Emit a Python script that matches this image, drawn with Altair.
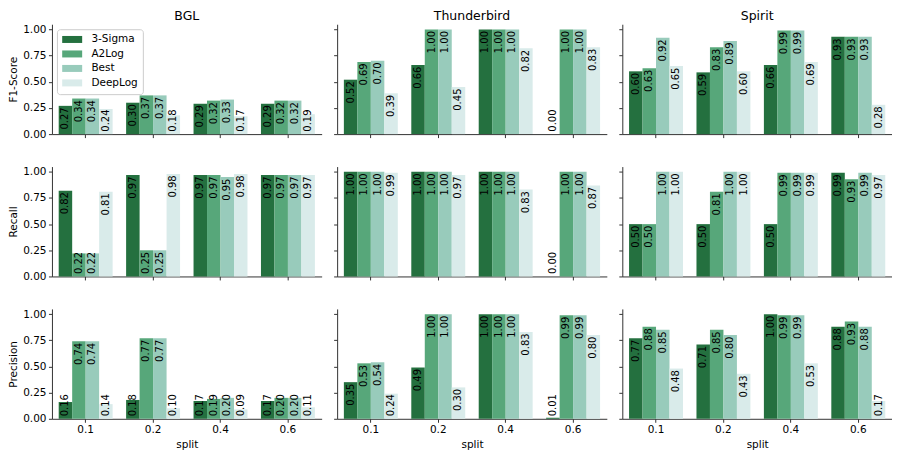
import altair as alt
import pandas as pd

splits = ["0.1", "0.2", "0.4", "0.6"]
methods = ["3-Sigma", "A2Log", "Best", "DeepLog"]
datasets = ["BGL", "Thunderbird", "Spirit"]
metrics = ["F1-Score", "Recall", "Precision"]
colors = ["#24703f", "#57a77a", "#98cbbb", "#d9ebea"]

# values per split: [3-Sigma, A2Log, Best, DeepLog]
bgl_f1 = [[0.27, 0.34, 0.34, 0.24], [0.30, 0.37, 0.37, 0.18], [0.29, 0.32, 0.33, 0.17], [0.29, 0.32, 0.32, 0.19]]
bgl_rec = [[0.82, 0.22, 0.22, 0.81], [0.97, 0.25, 0.25, 0.98], [0.97, 0.97, 0.95, 0.98], [0.97, 0.97, 0.97, 0.97]]
bgl_prec = [[0.16, 0.74, 0.74, 0.14], [0.18, 0.77, 0.77, 0.10], [0.17, 0.19, 0.20, 0.09], [0.17, 0.20, 0.20, 0.11]]

tb_f1 = [[0.52, 0.69, 0.70, 0.39], [0.66, 1.00, 1.00, 0.45], [1.00, 1.00, 1.00, 0.82], [0.00, 1.00, 1.00, 0.83]]
tb_rec = [[1.00, 1.00, 1.00, 0.99], [1.00, 1.00, 1.00, 0.97], [1.00, 1.00, 1.00, 0.83], [0.00, 1.00, 1.00, 0.87]]
tb_prec = [[0.35, 0.53, 0.54, 0.24], [0.49, 1.00, 1.00, 0.30], [1.00, 1.00, 1.00, 0.83], [0.01, 0.99, 0.99, 0.80]]

sp_f1 = [[0.60, 0.63, 0.92, 0.65], [0.59, 0.83, 0.89, 0.60], [0.66, 0.99, 0.99, 0.69], [0.93, 0.93, 0.93, 0.28]]
sp_rec = [[0.50, 0.50, 1.00, 1.00], [0.50, 0.81, 1.00, 1.00], [0.50, 0.99, 0.99, 0.99], [0.99, 0.93, 0.99, 0.97]]
sp_prec = [[0.77, 0.88, 0.85, 0.48], [0.71, 0.85, 0.80, 0.43], [1.00, 0.99, 0.99, 0.53], [0.88, 0.93, 0.88, 0.17]]

tables = {
    ("BGL", "F1-Score"): bgl_f1, ("BGL", "Recall"): bgl_rec, ("BGL", "Precision"): bgl_prec,
    ("Thunderbird", "F1-Score"): tb_f1, ("Thunderbird", "Recall"): tb_rec, ("Thunderbird", "Precision"): tb_prec,
    ("Spirit", "F1-Score"): sp_f1, ("Spirit", "Recall"): sp_rec, ("Spirit", "Precision"): sp_prec,
}

rows = []
for (ds, met), tbl in tables.items():
    for s, vals in zip(splits, tbl):
        for m, v in zip(methods, vals):
            rows.append({"dataset": ds, "metric": met, "split": s, "method": m, "value": v})
df = pd.DataFrame(rows)

FONT = "DejaVu Sans"
ysc = alt.Scale(domain=[0, 1.05], nice=False, zero=True)


def panel(ds, met, ri, ci):
    sub = df[(df.dataset == ds) & (df.metric == met)]
    bottom = ri == len(metrics) - 1
    left = ci == 0
    xax = alt.Axis(labels=bottom, labelAngle=0, title="split" if bottom else None,
                   ticks=True, domain=True)
    yax = alt.Axis(values=[0, 0.25, 0.5, 0.75, 1.0], format=".2f", labels=left,
                   title=met if left else None, grid=False, ticks=True, domain=True)
    x = alt.X("split:N", sort=splits, scale=alt.Scale(paddingInner=0.2, paddingOuter=0.1), axis=xax)
    xo = alt.XOffset("method:N", sort=methods, scale=alt.Scale(paddingInner=0, paddingOuter=0))
    base = alt.Chart(sub)
    bars = base.mark_bar().encode(
        x=x,
        xOffset=xo,
        y=alt.Y("value:Q", scale=ysc, axis=yax),
        color=alt.Color("method:N", sort=methods,
                        scale=alt.Scale(domain=methods, range=colors),
                        legend=alt.Legend(title=None, orient="none", legendX=5, legendY=5,
                                          symbolType="M-2,-0.7L2,-0.7L2,0.7L-2,0.7Z",
                                          symbolSize=100, symbolStrokeWidth=0, symbolOffset=5,
                                          labelFontSize=10.5, labelFont=FONT, labelOffset=14,
                                          labelColor="#000000",
                                          rowPadding=3.5, padding=5, cornerRadius=3, zindex=10,
                                          strokeColor="#cccccc", fillColor="rgba(255,255,255,0.85)")),
    )
    text = base.transform_calculate(ly="max(datum.value, 0.25)").mark_text(
        angle=270, align="right", baseline="middle", dx=-1.5, fontSize=10, font=FONT, color="#000000"
    ).encode(
        x=x,
        xOffset=xo,
        y=alt.Y("ly:Q", scale=ysc, axis=yax),
        text=alt.Text("value:Q", format=".2f"),
    )
    ch = alt.layer(bars, text)
    if ri == 0:
        ch = ch.properties(width=270, height=110,
                           title=alt.TitleParams(ds, fontSize=12.5, font=FONT, fontWeight="normal",
                                                 offset=1.5, color="#000000"))
    else:
        ch = ch.properties(width=270, height=110)
    return ch


rowcharts = []
for ri, met in enumerate(metrics):
    rowcharts.append(alt.hconcat(*[panel(ds, met, ri, ci) for ci, ds in enumerate(datasets)], spacing=11.5))

chart = alt.vconcat(*rowcharts, spacing=26.5).resolve_scale(xOffset="independent").properties(
    padding={"top": 2, "left": 0, "right": 0, "bottom": 0}, background="white"
).configure_view(stroke=None).configure_axis(
    labelFont=FONT, titleFont=FONT, labelFontSize=10.5, titleFontSize=10.5,
    titleFontWeight="normal", labelColor="#000000", titleColor="#000000",
    domainColor="#333333", tickColor="#333333", domainWidth=1, tickWidth=1, tickSize=3.5,
    labelPadding=2.5, titlePadding=4
)

chart.save("out.html", embed_options={"renderer": "svg", "actions": False})
